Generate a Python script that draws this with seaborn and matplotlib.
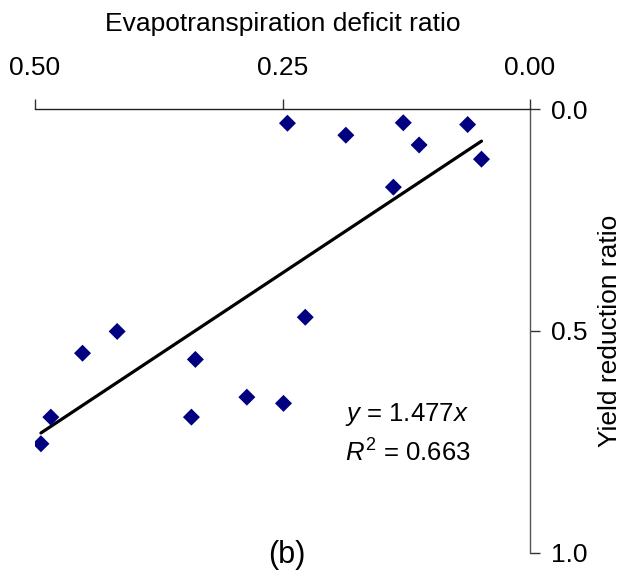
import matplotlib
matplotlib.use("Agg")
import matplotlib.pyplot as plt
import seaborn as sns
import numpy as np
import pandas as pd

# Evapotranspiration deficit ratio vs. yield reduction ratio
et_deficit = [0.245, 0.186, 0.128, 0.063, 0.112, 0.049, 0.138, 0.227,
              0.417, 0.452, 0.338, 0.286, 0.249, 0.484, 0.342, 0.494]
yield_reduction = [0.032, 0.059, 0.031, 0.035, 0.081, 0.113, 0.176, 0.469,
                   0.501, 0.550, 0.564, 0.649, 0.663, 0.694, 0.694, 0.754]
slope = 1.477
r_squared = 0.663
x_ticks = [0.50, 0.25, 0.00]
y_ticks = [0.0, 0.5, 1.0]

sns.set_theme(style="white")
plt.rcParams["font.family"] = ["Liberation Sans", "DejaVu Sans"]
plt.rcParams["mathtext.fontset"] = "custom"
plt.rcParams["mathtext.rm"] = "Liberation Sans"
plt.rcParams["mathtext.it"] = "Liberation Sans:italic"
plt.rcParams["text.color"] = "black"
plt.rcParams["axes.labelcolor"] = "black"
plt.rcParams["xtick.labelcolor"] = "black"
plt.rcParams["ytick.labelcolor"] = "black"

df = pd.DataFrame({"et": et_deficit, "yr": yield_reduction})
x_fit = np.array([min(et_deficit), max(et_deficit)])
fit = pd.DataFrame({"et": x_fit, "yr": slope * x_fit})

fig = plt.figure(figsize=(6.24, 5.77), dpi=100)
ax = fig.add_axes([35 / 624, 1 - 553 / 577, 495 / 624, 444 / 577])

sns.lineplot(data=fit, x="et", y="yr", color="black", linewidth=2.3, ax=ax)
sns.scatterplot(data=df, x="et", y="yr", marker="D", s=75, color="#000080",
                edgecolor="none", ax=ax, zorder=3)

ax.set_xlim(0.5, 0.0)
ax.set_ylim(1.0, 0.0)
ax.set_xticks(x_ticks)
ax.set_xticklabels([f"{v:.2f}" for v in x_ticks])
ax.set_yticks(y_ticks)
ax.set_yticklabels([f"{v:.1f}" for v in y_ticks])

ax.xaxis.set_ticks_position("top")
ax.xaxis.set_label_position("top")
ax.yaxis.set_ticks_position("right")
ax.yaxis.set_label_position("right")
for side in ["left", "bottom"]:
    ax.spines[side].set_visible(False)
ax.spines["top"].set_color("#222222")
ax.spines["right"].set_color("#555555")
for side in ["top", "right"]:
    ax.spines[side].set_linewidth(1.0)
ax.tick_params(axis="both", direction="out", length=7, width=1,
               color="#333333", labelcolor="black", labelsize=19)
ax.tick_params(axis="x", pad=14)
ax.tick_params(axis="y", pad=8)

ax.set_xlabel("Evapotranspiration deficit ratio", fontsize=19, labelpad=18)
ax.set_ylabel("Yield reduction ratio", fontsize=19, labelpad=8)

ax.text(0.626, 0.311, "$y$ = 1.477$x$", transform=ax.transAxes,
        fontsize=18.5, va="center", ha="left", color="black")
ax.text(0.626, 0.225, "$R^{\\mathrm{2}}$ = 0.663", transform=ax.transAxes,
        fontsize=18.5, va="center", ha="left", color="black")
fig.text(287 / 624, 1 - 555 / 577, "(b)", fontsize=22, ha="center",
         va="center", color="black")

fig.savefig("out.png", dpi=100)
